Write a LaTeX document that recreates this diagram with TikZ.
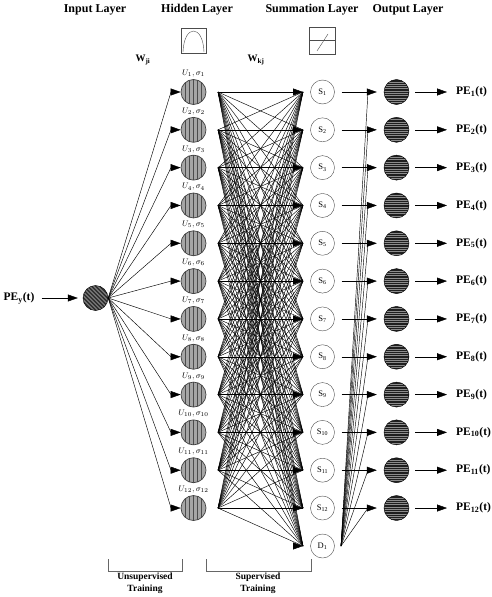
\documentclass[tikz,border=0pt]{standalone}
\usepackage{fontspec}
\setmainfont{Liberation Serif}
\usetikzlibrary{arrows.meta}

\tikzset{
  arrowtip/.style={-{Triangle[length=10pt,width=7pt]}},
  wire/.style={line width=0.45pt},
  layertitle/.style={font=\bfseries\fontsize{12}{14}\selectfont},
  wlabel/.style={font=\bfseries\fontsize{10}{12}\selectfont},
  petext/.style={font=\bfseries\fontsize{11.5}{14}\selectfont, inner sep=0pt},
  ulabel/.style={font=\fontsize{8}{9}\selectfont, inner sep=0pt},
  traintext/.style={font=\bfseries\fontsize{9.5}{12}\selectfont, align=center},
  inpnode/.style={circle, draw=black, fill=black!55, minimum size=25pt, inner sep=0pt,
    path picture={\foreach \dx in {-24,-20,...,24}
      \draw[black!90, line width=0.8pt] ([xshift=\dx pt]path picture bounding box.center) ++(-14pt,14pt) -- ++(28pt,-28pt);}},
  hidden/.style={circle, draw=black!75, line width=0.7pt, fill=black!35, minimum size=25pt, inner sep=0pt,
    path picture={\foreach \dx in {-8,-4,0,4,8}
      \draw[black!70, line width=0.5pt] ([xshift=\dx pt]path picture bounding box.north) -- ([xshift=\dx pt]path picture bounding box.south);}},
  sumnode/.style={circle, draw=black!70, minimum size=24pt, inner sep=0pt, font=\fontsize{8.5}{9}\selectfont},
  outnode/.style={circle, draw=black, fill=black!88, minimum size=25pt, inner sep=0pt,
    path picture={\foreach \dy in {-10.5,-8.2,...,10.5}
      \draw[white!55!black, line width=0.5pt] ([yshift=\dy pt]path picture bounding box.west) -- ([yshift=\dy pt]path picture bounding box.east);}},
  bracket/.style={black!60, line width=1pt}
}

\begin{document}
\begin{tikzpicture}[x=1pt, y=-1pt]
  \useasboundingbox (0,0) rectangle (491,597);

  \node[layertitle] at ( 95,10) {Input Layer};
  \node[layertitle] at (197,10) {Hidden Layer};
  \node[layertitle] at (312,10) {Summation Layer};
  \node[layertitle] at (408,10) {Output Layer};

  \draw[black!70] (181,28) rectangle (206,53);
  \draw[black!70] (183,52) .. controls (184,24) and (203,24) .. (204,52);
  \draw[black!70] (309,27) rectangle (335,54);
  \draw[black!70] (309,40.5) -- (335,40.5);
  \draw[black!70] (317,51) -- (328,34);

  \node[wlabel] at (143,60) {W\textsubscript{ji}};
  \node[wlabel] at (256,60) {W\textsubscript{kj}};

  \node[inpnode] (in) at (95.5,298) {};
  \node[petext] (pey) at (19,298) {PE\textsubscript{y}(t)};
  \draw[arrowtip, shorten <=7pt, shorten >=5pt] (pey) -- (in);

  \foreach \i in {1,...,12} {
    \pgfmathsetmacro\yy{92+37.82*(\i-1)}
    \node[hidden] (h\i) at (193.5,\yy) {};
    \node[ulabel] at (193.5,\yy-18.5) {$U_{\i},\sigma_{\i}$};
    \coordinate (hl\i) at (171,\yy);
    \coordinate (hr\i) at (218,\yy);
    \draw[wire] (in.east) -- (hl\i);
    \draw[arrowtip, wire] (hl\i) -- (h\i.west);
  }

  \foreach \k in {1,...,12} {
    \pgfmathsetmacro\yy{92+37.82*(\k-1)}
    \node[sumnode] (s\k) at (322.5,\yy) {S\textsubscript{\k}};
    \coordinate (si\k) at (303,\yy);
    \node[outnode] (o\k) at (396.5,\yy) {};
    \coordinate (oi\k) at (368,\yy);
    \node[petext, anchor=west] (pe\k) at (456,\yy) {PE\textsubscript{\k}(t)};
    \draw[arrowtip, shorten <=7pt, shorten >=7pt] (s\k) -- (o\k);
    \draw[arrowtip, shorten <=6pt, shorten >=9pt] (o\k) -- (pe\k);
  }
  \node[sumnode] (d1) at (322.5,546) {D\textsubscript{1}};
  \coordinate (di) at (303,546);
  \coordinate (dbase) at (293,546);
  \coordinate (dout) at (341,546);

  \foreach \i in {1,...,12} {
    \foreach \k in {1,...,12}
      \draw[wire] (hr\i) -- (si\k);
    \draw[wire] (hr\i) -- (di);
  }
  \foreach \k in {1,...,12} {
    \draw[arrowtip, wire] (hr\k) -- (si\k);
    \draw[wire] (dout) -- (oi\k);
  }
  \draw[arrowtip, wire] (dbase) -- (di);

  \draw[bracket] (108,559) -- (108,571) -- (182,571) -- (182,559);
  \draw[bracket] (206,559) -- (206,571) -- (311,571) -- (311,559);
  \node[traintext] at (145,583) {Unsupervised\\Training};
  \node[traintext] at (258,583) {Supervised\\Training};
\end{tikzpicture}
\end{document}
